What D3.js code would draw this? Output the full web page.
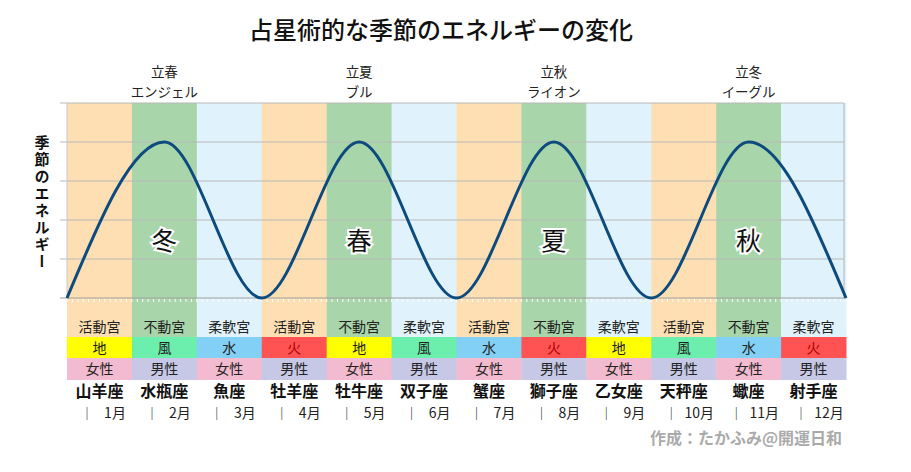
<!DOCTYPE html>
<html><head><meta charset="utf-8">
<script src="https://cdn.jsdelivr.net/npm/d3@7"></script>
<style>
html,body{margin:0;padding:0;background:#fff;}
text{font-family:"Noto Sans CJK JP","Noto Sans",sans-serif;}
</style></head>
<body>
<svg id="c" width="911" height="472"></svg>
<script>
const title = "占星術的な季節のエネルギーの変化";
const signs = ["山羊座","水瓶座","魚座","牡羊座","牡牛座","双子座","蟹座","獅子座","乙女座","天秤座","蠍座","射手座"];
const modes = ["活動宮","不動宮","柔軟宮","活動宮","不動宮","柔軟宮","活動宮","不動宮","柔軟宮","活動宮","不動宮","柔軟宮"];
const elements = ["地","風","水","火","地","風","水","火","地","風","水","火"];
const genders = ["女性","男性","女性","男性","女性","男性","女性","男性","女性","男性","女性","男性"];
const months = ["1月","2月","3月","4月","5月","6月","7月","8月","9月","10月","11月","12月"];
const seasons = ["冬","春","夏","秋"];
const seasonStarts = ["立春","立夏","立秋","立冬"];
const fixedAnimals = ["エンジェル","ブル","ライオン","イーグル"];
const energyX = [0,1.5,3,4.5,6,7.5,9,10.5,12];
const energyY = [0,4,0,4,0,4,0,4,0];
const yTicks = [0,1,2,3,4,5];
const yLabel = "季節のエネルギー";
const credit = "作成：たかふみ@開運日和";

const modeColor = {"活動宮":"#fddfb3","不動宮":"#a8d5aa","柔軟宮":"#e0f2fb"};
const elemColor = {"地":"#ffff00","風":"#6cefac","水":"#82d0f5","火":"#ff5252"};
const elemText = {"地":"#222","風":"#222","水":"#222","火":"#a00"};
const genderColor = {"女性":"#f3bbcf","男性":"#c6c8e6"};

const svg = d3.select("#c");
const x = d3.scaleLinear().domain([0,12]).range([67,846]);
const y = d3.scaleLinear().domain([0,5]).range([298,103]);
const colW = x(1)-x(0);

// background columns
svg.append("g").selectAll("rect").data(modes).join("rect")
  .attr("x",(d,i)=>x(i)).attr("y",y(5)).attr("width",colW+0.5).attr("height",337-y(5))
  .attr("fill",d=>modeColor[d]);

// gridlines
svg.append("g").selectAll("line").data(yTicks.slice(1)).join("line")
  .attr("x1",60).attr("x2",844).attr("y1",d=>y(d)).attr("y2",d=>y(d))
  .attr("stroke","#b8b8b8").attr("stroke-width",1);
// left axis & right border
svg.append("line").attr("x1",67).attr("x2",67).attr("y1",y(5)).attr("y2",y(0)).attr("stroke","#c8c8c8");
svg.append("line").attr("x1",844).attr("x2",844).attr("y1",y(5)).attr("y2",y(0)).attr("stroke","#b4b4b4");
// x axis
svg.append("line").attr("x1",60).attr("x2",846).attr("y1",y(0)).attr("y2",y(0)).attr("stroke","#a0a0a0").attr("stroke-width",1.2);
// white minor ticks
const minor = d3.range(0,12*12+1).map(i=>i/12);
svg.append("g").selectAll("line").data(minor).join("line")
  .attr("x1",d=>x(d)).attr("x2",d=>x(d)).attr("y1",y(0)+1).attr("y2",y(0)+4)
  .attr("stroke","#fff").attr("stroke-width",1);

// curve
const pts = energyX.map((v,i)=>[v,energyY[i]]);
svg.append("path").datum(pts)
  .attr("d",d3.line().x(d=>x(d[0])).y(d=>y(d[1])).curve(d3.curveMonotoneX))
  .attr("fill","none").attr("stroke","#0d4a7e").attr("stroke-width",3);

// season labels
svg.append("g").selectAll("text").data(seasons).join("text")
  .attr("x",(d,i)=>x(i*3+1.5)).attr("y",250)
  .attr("text-anchor","middle").attr("font-size",25)
  .attr("stroke","#fff").attr("stroke-width",4).attr("paint-order","stroke")
  .attr("fill","#111").text(d=>d);

// top labels
svg.append("g").selectAll("text").data(seasonStarts).join("text")
  .attr("x",(d,i)=>x(i*3+1.5)).attr("y",77).attr("text-anchor","middle")
  .attr("font-size",13.5).attr("fill","#222").text(d=>d);
svg.append("g").selectAll("text").data(fixedAnimals).join("text")
  .attr("x",(d,i)=>x(i*3+1.5)).attr("y",97).attr("text-anchor","middle")
  .attr("font-size",13.5).attr("fill","#222").text(d=>d);

// title
svg.append("text").attr("x",441).attr("y",39).attr("text-anchor","middle")
  .attr("font-size",24).attr("font-weight",500).attr("fill","#111").text(title);

// y label (vertical)
svg.append("text").attr("x",42).attr("y",135)
  .style("writing-mode","vertical-rl").attr("font-size",15).attr("font-weight","bold")
  .attr("letter-spacing",2).attr("fill","#111").text(yLabel);

// modes row text
svg.append("g").selectAll("text").data(modes).join("text")
  .attr("x",(d,i)=>x(i+0.5)).attr("y",332).attr("text-anchor","middle")
  .attr("font-size",14).attr("fill","#222").text(d=>d);

// element row
svg.append("g").selectAll("rect").data(elements).join("rect")
  .attr("x",(d,i)=>x(i)).attr("y",337).attr("width",colW+0.5).attr("height",21)
  .attr("fill",d=>elemColor[d]);
svg.append("g").selectAll("text").data(elements).join("text")
  .attr("x",(d,i)=>x(i+0.5)).attr("y",353).attr("text-anchor","middle")
  .attr("font-size",14).attr("fill",d=>elemText[d]).text(d=>d);

// gender row
svg.append("g").selectAll("rect").data(genders).join("rect")
  .attr("x",(d,i)=>x(i)).attr("y",358).attr("width",colW+0.5).attr("height",22)
  .attr("fill",d=>genderColor[d]);
svg.append("g").selectAll("text").data(genders).join("text")
  .attr("x",(d,i)=>x(i+0.5)).attr("y",374).attr("text-anchor","middle")
  .attr("font-size",14).attr("fill","#222").text(d=>d);

// sign names
svg.append("g").selectAll("text").data(signs).join("text")
  .attr("x",(d,i)=>x(i+0.5)).attr("y",397).attr("text-anchor","middle")
  .attr("font-size",16).attr("font-weight","bold").attr("fill","#111").text(d=>d);

// months
svg.append("g").selectAll("text").data(months).join("text")
  .attr("x",(d,i)=>x(i)+20).attr("y",418).attr("text-anchor","middle")
  .attr("font-size",13).attr("fill","#222").text("｜");
svg.append("g").selectAll("text").data(months).join("text")
  .attr("x",(d,i)=>x(i)+48).attr("y",418).attr("text-anchor","middle")
  .attr("font-size",14).attr("fill","#222").text(d=>d);

// credit
svg.append("text").attr("x",842).attr("y",444).attr("text-anchor","end")
  .attr("font-size",16).attr("font-weight","bold").attr("fill","#aaaaaa").text(credit);
</script>
</body></html>
